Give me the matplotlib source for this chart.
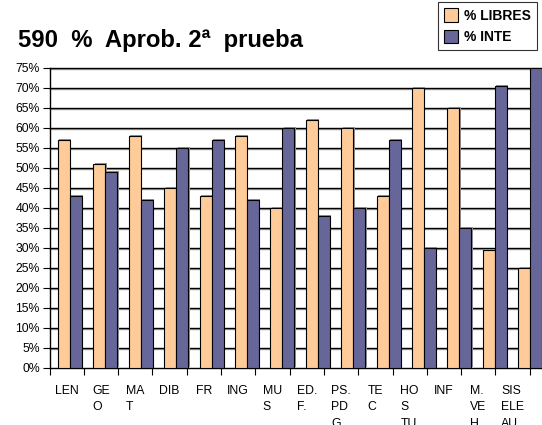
import numpy as np
import matplotlib
matplotlib.use('Agg')
import matplotlib.pyplot as plt
import matplotlib.patheffects as pe

plt.rcParams['font.family'] = ['Liberation Sans', 'DejaVu Sans']

# data
categories = ['LEN', 'GE\nO', 'MA\nT', 'DIB', 'FR', 'ING', 'MU\nS', 'ED.\nF.',
              'PS.\nPD\nG', 'TE\nC', 'HO\nS\nTU', 'INF', 'M.\nVE\nH', 'SIS\nELE\nAU']
libres = [57, 51, 58, 45, 43, 58, 40, 62, 60, 43, 70, 65, 29.5, 25]
inte = [43, 49, 42, 55, 57, 42, 60, 38, 40, 57, 30, 35, 70.5, 75]
yticks = list(range(0, 80, 5))

W, H = 542, 425
fig = plt.figure(figsize=(W / 100, H / 100), dpi=100)
slot = 34.3  # px per category slot
ax_left, ax_bottom, ax_top = 49.5, 368, 68
ax_w = 560 - ax_left
ax = fig.add_axes([ax_left / W, 1 - ax_bottom / H, ax_w / W, (ax_bottom - ax_top) / H])

n = len(categories)
x = np.arange(n)
# bars in the original spread slightly wider than the tick slots
bar_x = x * 1.032
bw = 0.35
shadow = [pe.SimplePatchShadow(offset=(1, 1), shadow_rgbFace='#909090', alpha=1), pe.Normal()]
b1 = ax.bar(bar_x - 0.077, libres, bw, color='#FFCC99', edgecolor='black', linewidth=0.8,
            label='% LIBRES', zorder=3, path_effects=shadow)
b2 = ax.bar(bar_x + 0.273, inte, bw, color='#666699', edgecolor='black', linewidth=0.8,
            label='% INTE', zorder=3, path_effects=shadow)

ax.set_xlim(-0.5, -0.5 + ax_w / slot)
ax.set_ylim(0, 75)
ax.set_yticks(yticks)
ax.set_yticklabels([f'{v}%' for v in yticks], fontsize=8.8)
for v in yticks[1:]:
    ax.axhline(v, color='black', linewidth=1, zorder=1, clip_on=False,
               path_effects=[pe.SimpleLineShadow(offset=(0, -1), shadow_color='#a0a0a0', alpha=1), pe.Normal()])

ax.set_xticks(np.arange(n + 1) - 0.5)
ax.set_xticklabels([])
ax.set_xticks(x, minor=True)
ax.set_xticklabels(categories, minor=True, fontsize=8.8, linespacing=1.5, va='top',
                   ha='center', multialignment='left')
ax.tick_params(axis='x', which='minor', length=0, pad=12)
ax.tick_params(axis='x', which='major', length=5, direction='out', width=0.8)
ax.tick_params(axis='y', length=5, direction='out', width=0.8, pad=2)

for s in ['top', 'right']:
    ax.spines[s].set_visible(False)
ax.spines['left'].set_linewidth(1)
ax.spines['bottom'].set_linewidth(1)

fig.text(18 / W, 1 - 40 / H, '590  %  Aprob. 2ª  prueba', fontsize=17.2, fontweight='bold',
         va='center', ha='left')

leg = fig.legend(handles=[b1, b2], loc='upper right', bbox_to_anchor=(537 / W, 1 - 2 / H),
                 prop={'weight': 'bold', 'size': 10}, frameon=True, fancybox=False,
                 edgecolor='black', handlelength=0.95, handleheight=1.1, handletextpad=0.45,
                 borderpad=0.45, labelspacing=0.5, borderaxespad=0)
leg.get_frame().set_linewidth(0.8)
for h in leg.legend_handles:
    h.set_path_effects([])

fig.savefig('out.png', dpi=100)
